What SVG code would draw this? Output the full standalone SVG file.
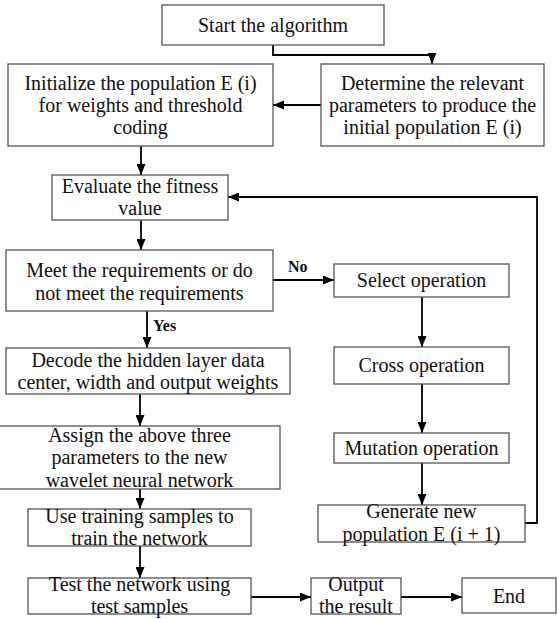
<svg xmlns="http://www.w3.org/2000/svg" width="557" height="619" viewBox="0 0 557 619">
<defs>
<marker id="ah" markerUnits="userSpaceOnUse" markerWidth="11" markerHeight="9" refX="11" refY="4.5" orient="auto">
<path d="M0,0 L11,4.5 L0,9 z" fill="#000"/>
</marker>
<style>
.box{fill:#fff;stroke:#555;stroke-width:1.3}
.t{font-family:"Liberation Serif","Times New Roman",serif;font-size:20px;fill:#111;text-anchor:middle}
.lb{font-family:"Liberation Serif","Times New Roman",serif;font-size:16px;font-weight:bold;fill:#111}
.c{fill:none;stroke:#000;stroke-width:1.8}
.ca{fill:none;stroke:#000;stroke-width:1.8;marker-end:url(#ah)}
</style>
</defs>
<rect width="557" height="619" fill="#fff"/>
<g id="connectors">
<polyline class="ca" points="273,45 273,55 432,55 432,64"/>
<line class="ca" x1="321" y1="105" x2="273" y2="105"/>
<line class="ca" x1="141" y1="146" x2="141" y2="175"/>
<line class="ca" x1="141" y1="220" x2="141" y2="250"/>
<line class="ca" x1="273" y1="280" x2="334" y2="280"/>
<line class="ca" x1="147" y1="311" x2="147" y2="348"/>
<line class="ca" x1="140" y1="394" x2="140" y2="426"/>
<line class="ca" x1="140" y1="489" x2="140" y2="509"/>
<line class="ca" x1="140" y1="546" x2="140" y2="578"/>
<line class="ca" x1="251" y1="597" x2="311" y2="597"/>
<line class="ca" x1="401" y1="597" x2="462" y2="597"/>
<line class="ca" x1="422" y1="297" x2="422" y2="347"/>
<line class="ca" x1="422" y1="384" x2="422" y2="433"/>
<line class="ca" x1="422" y1="463" x2="422" y2="505"/>
<polyline class="ca" points="525,523 537,523 537,197 228,197"/>
<text class="lb" x="288" y="272">No</text>
<text class="lb" x="153" y="331">Yes</text>
</g>
<g id="start">
<rect class="box" x="162" y="5" width="222" height="40"/>
<text class="t" x="273" y="32">Start the algorithm</text>
</g>
<g id="determine">
<rect class="box" x="321" y="64" width="223" height="82"/>
<text class="t" x="432.5" y="90">Determine the relevant</text>
<text class="t" x="432.5" y="112">parameters to produce the</text>
<text class="t" x="432.5" y="134">initial population E (i)</text>
</g>
<g id="init">
<rect class="box" x="8" y="64" width="265" height="82"/>
<text class="t" x="140.5" y="90">Initialize the population E (i)</text>
<text class="t" x="140.5" y="112">for weights and threshold</text>
<text class="t" x="140.5" y="134">coding</text>
</g>
<g id="evaluate">
<rect class="box" x="52" y="175" width="176" height="45"/>
<text class="t" x="140" y="193">Evaluate the fitness</text>
<text class="t" x="140" y="215">value</text>
</g>
<g id="meet">
<rect class="box" x="6" y="250" width="267" height="61"/>
<text class="t" x="139.5" y="277">Meet the requirements or do</text>
<text class="t" x="139.5" y="300">not meet the requirements</text>
</g>
<g id="select">
<rect class="box" x="334" y="264" width="175" height="33"/>
<text class="t" x="421.5" y="287">Select operation</text>
</g>
<g id="cross">
<rect class="box" x="334" y="347" width="175" height="37"/>
<text class="t" x="421.5" y="372">Cross operation</text>
</g>
<g id="mutation">
<rect class="box" x="334" y="433" width="175" height="30"/>
<text class="t" x="421.5" y="455">Mutation operation</text>
</g>
<g id="generate">
<rect class="box" x="318" y="505" width="207" height="37"/>
<text class="t" x="421.5" y="518">Generate new</text>
<text class="t" x="421.5" y="541">population E (i + 1)</text>
</g>
<g id="decode">
<rect class="box" x="6" y="348" width="284" height="46"/>
<text class="t" x="148" y="367">Decode the hidden layer data</text>
<text class="t" x="148" y="389">center, width and output weights</text>
</g>
<g id="assign">
<rect class="box" x="-1" y="426" width="281" height="63"/>
<text class="t" x="139.5" y="442">Assign the above three</text>
<text class="t" x="139.5" y="464">parameters to the new</text>
<text class="t" x="139.5" y="487">wavelet neural network</text>
</g>
<g id="use">
<rect class="box" x="28" y="509" width="223" height="37"/>
<text class="t" x="139.5" y="523">Use training samples to</text>
<text class="t" x="139.5" y="545">train the network</text>
</g>
<g id="test">
<rect class="box" x="28" y="578" width="223" height="36"/>
<text class="t" x="139.5" y="591">Test the network using</text>
<text class="t" x="139.5" y="613">test samples</text>
</g>
<g id="output">
<rect class="box" x="311" y="578" width="90" height="36"/>
<text class="t" x="356" y="591">Output</text>
<text class="t" x="356" y="613">the result</text>
</g>
<g id="end">
<rect class="box" x="462" y="578" width="94" height="35"/>
<text class="t" x="509" y="603">End</text>
</g>
</svg>
